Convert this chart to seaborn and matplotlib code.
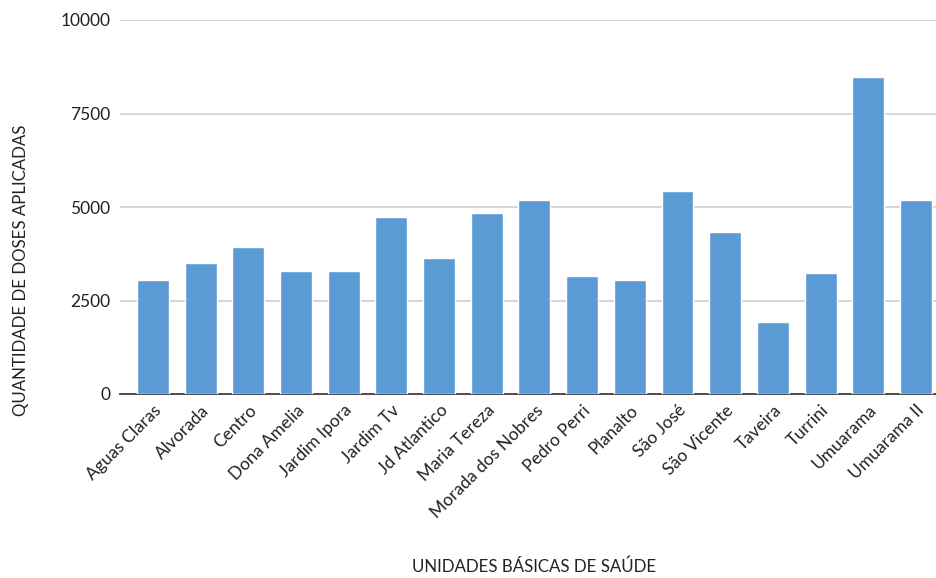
import matplotlib
matplotlib.use("Agg")
import matplotlib.pyplot as plt
import matplotlib.transforms as mtransforms
import seaborn as sns
import pandas as pd

categories = ["Aguas Claras", "Alvorada", "Centro", "Dona Amelia", "Jardim Ipora",
              "Jardim Tv", "Jd Atlantico", "Maria Tereza", "Morada dos Nobres",
              "Pedro Perri", "Planalto", "São José", "São Vicente", "Taveira",
              "Turrini", "Umuarama", "Umuarama II"]
doses = [3056, 3511, 3921, 3280, 3280, 4741, 3645, 4830, 5187,
         3146, 3056, 5419, 4332, 1916, 3235, 8467, 5187]
y_ticks = [0, 2500, 5000, 7500, 10000]

sns.set_theme(style="white")
plt.rcParams['font.family'] = ['Lato', 'DejaVu Sans']

df = pd.DataFrame({"ubs": categories, "doses": doses})

fig = plt.figure(figsize=(9.36, 5.78), dpi=100)
ax = fig.add_axes([120/936, 1 - 394/578, (936 - 120)/936, (394 - 20)/578])

sns.barplot(data=df, x="ubs", y="doses", color="#5B9BD5", saturation=1,
            width=0.67, ax=ax, zorder=3)

ax.set_ylim(0, 10000)
ax.set_xlim(-0.69, len(categories) - 1 + 0.42)
ax.set_yticks(y_ticks)
ax.set_yticklabels([str(t) for t in y_ticks], fontsize=12.5, color="#222222")
ax.yaxis.grid(True, color="#d0d0d0", linewidth=1.2, zorder=0)
ax.set_axisbelow(True)
for s in ["top", "right", "left"]:
    ax.spines[s].set_visible(False)
ax.spines["bottom"].set_color("#404040")
ax.spines["bottom"].set_linewidth(1.3)
ax.tick_params(axis="y", length=0, pad=7)
ax.tick_params(axis="x", length=0, pad=10)
ax.set_xticks(range(len(categories)))
ax.set_xticklabels(categories, rotation=45, ha="right", va="center",
                   rotation_mode="anchor", fontsize=12.5, color="#222222")
offset = mtransforms.ScaledTranslation(6/100, 0, fig.dpi_scale_trans)
for lbl in ax.get_xticklabels():
    lbl.set_transform(lbl.get_transform() + offset)
ax.set_xlabel("")
ax.set_ylabel("")

fig.text(21/936, 1 - 270/578, "QUANTIDADE DE DOSES APLICADAS", rotation=90,
         ha="center", va="center", fontsize=12.2, color="#222222")
fig.text(534/936, 1 - 567/578, "UNIDADES BÁSICAS DE SAÚDE",
         ha="center", va="center", fontsize=12.2, color="#222222")

fig.savefig("out.png", dpi=100)
